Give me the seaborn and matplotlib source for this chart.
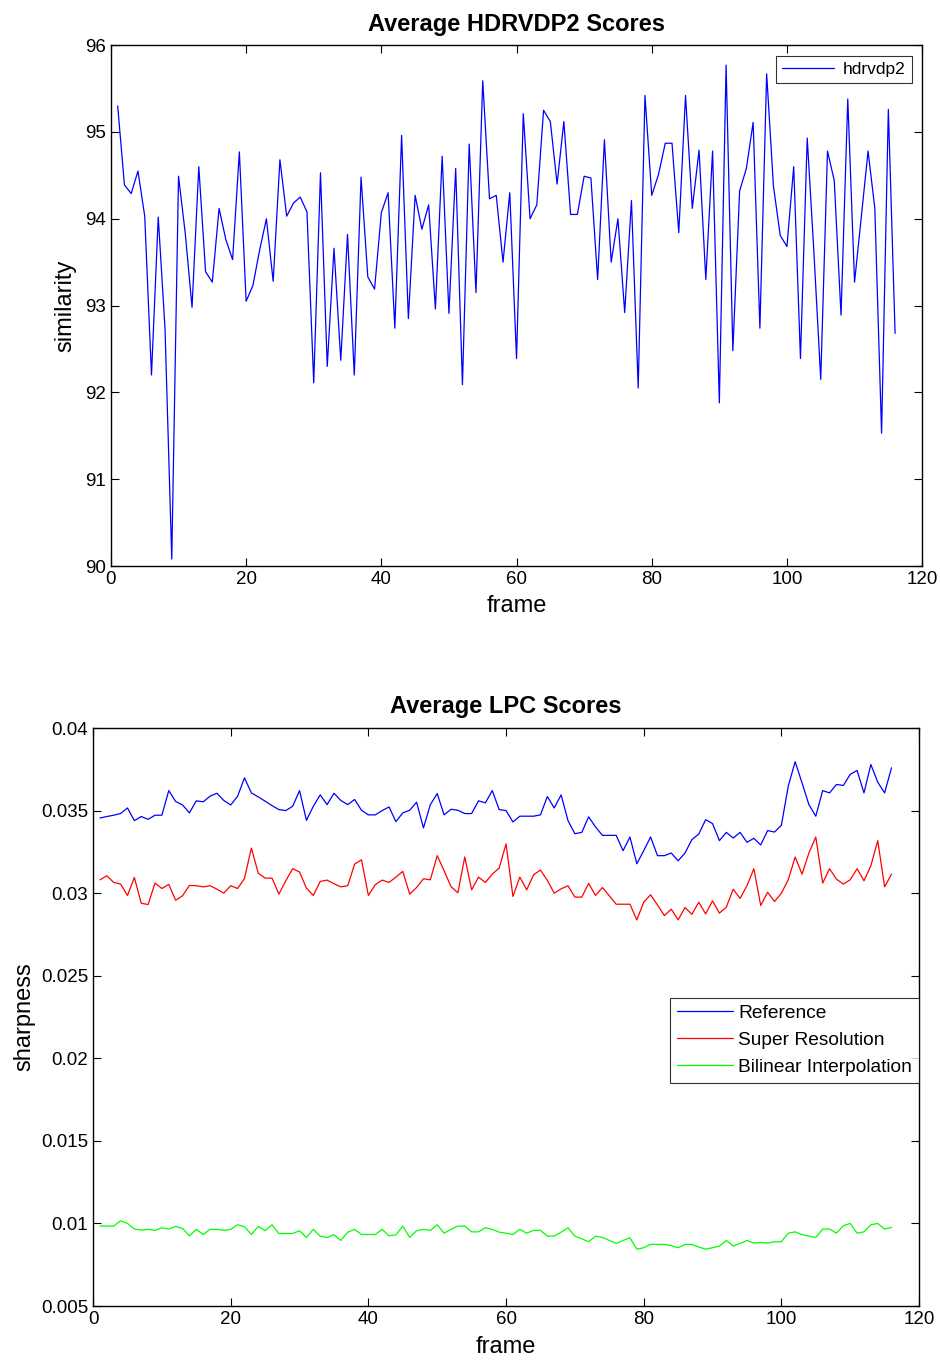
import numpy as np
import pandas as pd
import matplotlib
matplotlib.use("Agg")
import matplotlib.pyplot as plt
import seaborn as sns

# values, frames 1..116
frames = np.arange(1, 117)

hdrvdp2 = [95.30, 94.39, 94.29, 94.55, 94.03, 92.20, 94.02, 92.74, 90.08, 94.49,
           93.83, 92.98, 94.60, 93.39, 93.27, 94.12, 93.76, 93.53, 94.77, 93.05,
           93.23, 93.64, 94.00, 93.28, 94.68, 94.03, 94.18, 94.25, 94.08, 92.11,
           94.53, 92.30, 93.66, 92.37, 93.82, 92.20, 94.48, 93.33, 93.19, 94.07,
           94.30, 92.74, 94.96, 92.85, 94.27, 93.88, 94.16, 92.96, 94.72, 92.91,
           94.58, 92.09, 94.86, 93.15, 95.59, 94.23, 94.27, 93.50, 94.30, 92.39,
           95.21, 94.00, 94.16, 95.25, 95.12, 94.40, 95.12, 94.05, 94.05, 94.49,
           94.47, 93.30, 94.91, 93.50, 94.00, 92.92, 94.21, 92.05, 95.42, 94.27,
           94.51, 94.87, 94.87, 93.84, 95.42, 94.12, 94.79, 93.30, 94.78, 91.88,
           95.77, 92.48, 94.32, 94.58, 95.11, 92.74, 95.67, 94.38, 93.81, 93.68,
           94.60, 92.39, 94.93, 93.60, 92.15, 94.78, 94.44, 92.89, 95.38, 93.27,
           94.02, 94.78, 94.12, 91.53, 95.26, 92.68]

lpc_reference = [0.03455, 0.03464, 0.03472, 0.03482, 0.03516, 0.03439, 0.03464, 0.03447, 0.03472, 0.03472,
                 0.03621, 0.03555, 0.03534, 0.03486, 0.03559, 0.03553, 0.03587, 0.03605, 0.03561, 0.03534,
                 0.03587, 0.03698, 0.03607, 0.03583, 0.03557, 0.03530, 0.03506, 0.03500, 0.03526, 0.03621,
                 0.03441, 0.03526, 0.03595, 0.03536, 0.03605, 0.03561, 0.03536, 0.03567, 0.03502, 0.03474,
                 0.03474, 0.03500, 0.03522, 0.03433, 0.03486, 0.03502, 0.03551, 0.03395, 0.03536, 0.03603,
                 0.03474, 0.03508, 0.03502, 0.03482, 0.03482, 0.03559, 0.03547, 0.03621, 0.03506, 0.03500,
                 0.03431, 0.03466, 0.03466, 0.03466, 0.03474, 0.03585, 0.03516, 0.03595, 0.03439, 0.03360,
                 0.03368, 0.03462, 0.03401, 0.03350, 0.03350, 0.03350, 0.03257, 0.03340, 0.03178, 0.03257,
                 0.03340, 0.03227, 0.03227, 0.03243, 0.03196, 0.03243, 0.03324, 0.03358, 0.03445, 0.03421,
                 0.03318, 0.03368, 0.03334, 0.03368, 0.03308, 0.03332, 0.03292, 0.03379, 0.03370, 0.03411,
                 0.03648, 0.03796, 0.03668, 0.03536, 0.03466, 0.03621, 0.03607, 0.03658, 0.03652, 0.03719,
                 0.03743, 0.03607, 0.03779, 0.03672, 0.03607, 0.03759]

lpc_super_res = [0.03081, 0.03105, 0.03065, 0.03055, 0.02986, 0.03095, 0.02939, 0.02931, 0.03061, 0.03028,
                 0.03053, 0.02957, 0.02984, 0.03047, 0.03045, 0.03038, 0.03045, 0.03024, 0.03000, 0.03045,
                 0.03028, 0.03089, 0.03273, 0.03121, 0.03091, 0.03091, 0.02994, 0.03075, 0.03148, 0.03128,
                 0.03030, 0.02986, 0.03071, 0.03079, 0.03057, 0.03038, 0.03045, 0.03176, 0.03202, 0.02986,
                 0.03051, 0.03079, 0.03065, 0.03097, 0.03132, 0.02994, 0.03034, 0.03087, 0.03081, 0.03227,
                 0.03136, 0.03040, 0.03002, 0.03219, 0.03020, 0.03097, 0.03065, 0.03115, 0.03152, 0.03298,
                 0.02980, 0.03097, 0.03020, 0.03111, 0.03140, 0.03077, 0.03000, 0.03026, 0.03045, 0.02976,
                 0.02976, 0.03059, 0.02986, 0.03034, 0.02984, 0.02933, 0.02933, 0.02933, 0.02838, 0.02945,
                 0.02990, 0.02929, 0.02864, 0.02903, 0.02838, 0.02913, 0.02872, 0.02945, 0.02874, 0.02953,
                 0.02879, 0.02915, 0.03024, 0.02968, 0.03045, 0.03148, 0.02925, 0.03006, 0.02949, 0.03000,
                 0.03081, 0.03219, 0.03115, 0.03243, 0.03340, 0.03061, 0.03148, 0.03085, 0.03055, 0.03081,
                 0.03148, 0.03075, 0.03166, 0.03318, 0.03038, 0.03115]

lpc_bilinear = [0.00984, 0.00984, 0.00984, 0.01016, 0.01000, 0.00966, 0.00960, 0.00964, 0.00958, 0.00974,
                0.00966, 0.00982, 0.00970, 0.00925, 0.00964, 0.00933, 0.00964, 0.00964, 0.00958, 0.00964,
                0.00992, 0.00980, 0.00933, 0.00982, 0.00956, 0.00992, 0.00939, 0.00939, 0.00939, 0.00956,
                0.00915, 0.00964, 0.00923, 0.00915, 0.00931, 0.00897, 0.00947, 0.00964, 0.00933, 0.00933,
                0.00933, 0.00964, 0.00925, 0.00931, 0.00984, 0.00915, 0.00956, 0.00964, 0.00958, 0.00992,
                0.00941, 0.00964, 0.00984, 0.00984, 0.00949, 0.00949, 0.00974, 0.00964, 0.00947, 0.00941,
                0.00933, 0.00964, 0.00941, 0.00958, 0.00958, 0.00923, 0.00923, 0.00947, 0.00974, 0.00923,
                0.00907, 0.00889, 0.00923, 0.00915, 0.00897, 0.00879, 0.00897, 0.00913, 0.00844, 0.00853,
                0.00873, 0.00873, 0.00873, 0.00865, 0.00853, 0.00873, 0.00873, 0.00857, 0.00844, 0.00853,
                0.00863, 0.00897, 0.00863, 0.00879, 0.00897, 0.00881, 0.00885, 0.00881, 0.00889, 0.00889,
                0.00941, 0.00949, 0.00933, 0.00923, 0.00915, 0.00966, 0.00966, 0.00941, 0.00986, 0.01000,
                0.00941, 0.00949, 0.00992, 0.01000, 0.00966, 0.00976]

sns.set_style("ticks")
plt.rcParams['font.family'] = ['Liberation Sans', 'DejaVu Sans']
plt.rcParams['xtick.direction'] = 'in'
plt.rcParams['ytick.direction'] = 'in'
plt.rcParams['xtick.top'] = True
plt.rcParams['ytick.right'] = True
plt.rcParams['axes.edgecolor'] = 'black'
plt.rcParams['axes.linewidth'] = 1.0
plt.rcParams['text.color'] = 'black'
plt.rcParams['axes.labelcolor'] = 'black'

fig = plt.figure(figsize=(9.4, 13.6), dpi=100)
ax1 = fig.add_axes([0.118, 0.5838, 0.863, 0.383])
ax2 = fig.add_axes([0.099, 0.0397, 0.8787, 0.425])

#%% top: hdrvdp2
df1 = pd.DataFrame({'frame': frames, 'hdrvdp2': hdrvdp2})
sns.lineplot(data=df1, x='frame', y='hdrvdp2', color=(0, 0, 1), lw=0.9,
             label='hdrvdp2', ax=ax1)
ax1.set_xlim(0, 120)
ax1.set_ylim(90, 96)
ax1.set_xticks(range(0, 121, 20))
ax1.set_yticks(range(90, 97))
ax1.set_title('Average HDRVDP2 Scores', fontsize=17, fontweight='bold', pad=10)
ax1.set_xlabel('frame', fontsize=17, labelpad=5)
ax1.set_ylabel('similarity', fontsize=17, labelpad=6)
leg1 = ax1.legend(loc='upper right', fontsize=12.5, frameon=True, fancybox=False,
                  handlelength=3.0, handletextpad=0.5, borderaxespad=0.6,
                  borderpad=0.35)
leg1.get_frame().set_edgecolor('black')
leg1.get_frame().set_linewidth(0.8)

#%% bottom: LPC
df2 = pd.DataFrame({'frame': np.tile(frames, 3),
                    'sharpness': lpc_reference + lpc_super_res + lpc_bilinear,
                    'method': ['Reference'] * 116 + ['Super Resolution'] * 116
                              + ['Bilinear Interpolation'] * 116})
sns.lineplot(data=df2, x='frame', y='sharpness', hue='method',
             palette=[(0, 0, 1), (1, 0, 0), (0, 1, 0)], lw=0.9, ax=ax2)
ax2.set_xlim(0, 120)
ax2.set_ylim(0.005, 0.04)
ax2.set_xticks(range(0, 121, 20))
yt = np.arange(0.005, 0.0401, 0.005)
ax2.set_yticks(yt)
ax2.set_yticklabels([f'{v:g}' for v in yt])
ax2.set_title('Average LPC Scores', fontsize=17, fontweight='bold', pad=11)
ax2.set_xlabel('frame', fontsize=17, labelpad=6)
ax2.set_ylabel('sharpness', fontsize=17, labelpad=4)
leg2 = ax2.legend(loc='upper right', bbox_to_anchor=(1.0, 0.533), fontsize=13.8,
                  frameon=True, fancybox=False, handlelength=2.9, handletextpad=0.3,
                  borderaxespad=0, borderpad=0.35, labelspacing=0.5, title=None)
leg2.get_frame().set_edgecolor('black')
leg2.get_frame().set_linewidth(0.8)

for ax in (ax1, ax2):
    ax.tick_params(labelsize=13.5, length=6, width=0.8, colors='black')
    for s in ax.spines.values():
        s.set_visible(True)

fig.savefig('out.png', dpi=100)
